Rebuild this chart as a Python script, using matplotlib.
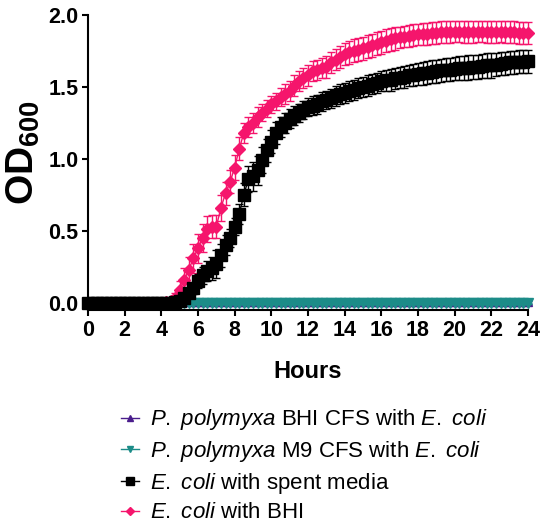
import numpy as np
import matplotlib
matplotlib.use("Agg")
import matplotlib.pyplot as plt

plt.rcParams['font.family'] = ['Liberation Sans', 'DejaVu Sans']
plt.rcParams['mathtext.fontset'] = 'custom'
plt.rcParams['mathtext.rm'] = 'Liberation Sans'
plt.rcParams['mathtext.it'] = 'Liberation Sans:italic'
plt.rcParams['mathtext.bf'] = 'Liberation Sans:bold'

# readings every 15 min, 0-24 h
hours = np.arange(97) * 0.25

# P. polymyxa BHI CFS with E. coli
bhi_cfs = [
    0.004, 0.004, 0.004, 0.004, 0.004, 0.004, 0.004, 0.004,
    0.004, 0.004, 0.004, 0.004, 0.004, 0.004, 0.004, 0.004,
    0.004, 0.004, 0.004, 0.004, 0.004, 0.004, 0.004, 0.004,
    0.004, 0.004, 0.004, 0.004, 0.004, 0.004, 0.004, 0.004,
    0.004, 0.004, 0.004, 0.004, 0.004, 0.004, 0.004, 0.004,
    0.004, 0.004, 0.004, 0.004, 0.004, 0.004, 0.004, 0.004,
    0.004, 0.004, 0.004, 0.004, 0.004, 0.004, 0.004, 0.004,
    0.004, 0.004, 0.004, 0.004, 0.004, 0.004, 0.004, 0.004,
    0.004, 0.004, 0.004, 0.004, 0.004, 0.004, 0.004, 0.004,
    0.004, 0.004, 0.004, 0.004, 0.004, 0.004, 0.004, 0.004,
    0.004, 0.004, 0.004, 0.004, 0.004, 0.004, 0.004, 0.004,
    0.004, 0.004, 0.004, 0.004, 0.004, 0.004, 0.004, 0.004,
    0.004,
]
# P. polymyxa M9 CFS with E. coli
m9_cfs = [
    -0.002, -0.002, -0.002, -0.002, -0.002, -0.002, -0.002, -0.002,
    -0.002, -0.002, -0.002, -0.002, -0.002, -0.002, -0.002, -0.002,
    -0.002, -0.002, -0.002, -0.002, -0.002, -0.002, -0.002, -0.002,
    -0.002, -0.002, -0.002, -0.002, -0.002, -0.002, -0.002, -0.002,
    -0.002, -0.002, -0.002, -0.002, -0.002, -0.002, -0.002, -0.002,
    -0.002, -0.002, -0.002, -0.002, -0.002, -0.002, -0.002, -0.002,
    -0.002, -0.002, -0.002, -0.002, -0.002, -0.002, -0.002, -0.002,
    -0.002, -0.002, -0.002, -0.002, -0.002, -0.002, -0.002, -0.002,
    -0.002, -0.002, -0.002, -0.002, -0.002, -0.002, -0.002, -0.002,
    -0.002, -0.002, -0.002, -0.002, -0.002, -0.002, -0.002, -0.002,
    -0.002, -0.002, -0.002, -0.002, -0.002, -0.002, -0.002, -0.002,
    -0.002, -0.002, -0.002, -0.002, -0.002, -0.002, -0.002, -0.002,
    -0.002,
]

# E. coli with spent media
spent = [
    0.000, 0.000, 0.000, 0.000, 0.000, 0.000, 0.000, 0.000,
    0.000, 0.000, 0.000, 0.000, 0.000, 0.000, 0.000, 0.000,
    0.000, 0.000, 0.002, 0.005, 0.010, 0.030, 0.070, 0.100,
    0.150, 0.190, 0.220, 0.240, 0.270, 0.330, 0.400, 0.450,
    0.530, 0.620, 0.750, 0.860, 0.880, 0.920, 0.990, 1.060,
    1.120, 1.180, 1.220, 1.250, 1.280, 1.300, 1.320, 1.340,
    1.360, 1.370, 1.380, 1.400, 1.410, 1.420, 1.440, 1.450,
    1.460, 1.470, 1.480, 1.490, 1.500, 1.510, 1.520, 1.530,
    1.540, 1.545, 1.550, 1.560, 1.565, 1.570, 1.580, 1.585,
    1.590, 1.595, 1.600, 1.605, 1.610, 1.615, 1.620, 1.620,
    1.625, 1.630, 1.630, 1.635, 1.640, 1.640, 1.645, 1.650,
    1.650, 1.655, 1.660, 1.665, 1.670, 1.670, 1.675, 1.675,
    1.680,
]
spent_err = [
    0.005, 0.005, 0.005, 0.005, 0.005, 0.005, 0.005, 0.005,
    0.005, 0.005, 0.005, 0.005, 0.005, 0.005, 0.005, 0.005,
    0.005, 0.005, 0.005, 0.008, 0.010, 0.020, 0.030, 0.040,
    0.050, 0.060, 0.070, 0.080, 0.100, 0.080, 0.070, 0.060,
    0.060, 0.070, 0.080, 0.090, 0.100, 0.100, 0.090, 0.080,
    0.080, 0.075, 0.070, 0.070, 0.065, 0.065, 0.065, 0.065,
    0.065, 0.065, 0.065, 0.065, 0.065, 0.065, 0.070, 0.070,
    0.070, 0.070, 0.070, 0.070, 0.070, 0.070, 0.070, 0.070,
    0.070, 0.075, 0.075, 0.075, 0.075, 0.075, 0.075, 0.075,
    0.075, 0.080, 0.080, 0.080, 0.080, 0.080, 0.080, 0.080,
    0.080, 0.085, 0.085, 0.085, 0.085, 0.085, 0.085, 0.085,
    0.085, 0.080, 0.080, 0.080, 0.080, 0.080, 0.080, 0.080,
    0.080,
]

# E. coli with BHI
bhi = [
    0.000, 0.000, 0.000, 0.000, 0.000, 0.000, 0.000, 0.000,
    0.000, 0.000, 0.000, 0.000, 0.000, 0.000, 0.000, 0.000,
    0.000, 0.003, 0.010, 0.030, 0.090, 0.160, 0.230, 0.310,
    0.380, 0.450, 0.510, 0.530, 0.530, 0.660, 0.760, 0.840,
    0.940, 1.070, 1.180, 1.220, 1.250, 1.290, 1.320, 1.350,
    1.380, 1.400, 1.430, 1.450, 1.470, 1.510, 1.540, 1.560,
    1.580, 1.610, 1.620, 1.630, 1.640, 1.670, 1.690, 1.710,
    1.730, 1.740, 1.750, 1.760, 1.770, 1.780, 1.790, 1.800,
    1.810, 1.820, 1.830, 1.840, 1.845, 1.850, 1.855, 1.860,
    1.865, 1.870, 1.870, 1.875, 1.875, 1.880, 1.880, 1.880,
    1.885, 1.885, 1.880, 1.880, 1.880, 1.885, 1.885, 1.880,
    1.880, 1.880, 1.885, 1.880, 1.880, 1.880, 1.875, 1.875,
    1.875,
]
bhi_err = [
    0.005, 0.005, 0.005, 0.005, 0.005, 0.005, 0.005, 0.005,
    0.005, 0.005, 0.005, 0.005, 0.005, 0.005, 0.005, 0.005,
    0.005, 0.005, 0.020, 0.040, 0.060, 0.080, 0.090, 0.100,
    0.100, 0.100, 0.090, 0.080, 0.080, 0.090, 0.080, 0.080,
    0.090, 0.080, 0.070, 0.070, 0.070, 0.070, 0.060, 0.060,
    0.060, 0.060, 0.065, 0.070, 0.070, 0.075, 0.070, 0.070,
    0.070, 0.070, 0.070, 0.070, 0.075, 0.075, 0.075, 0.075,
    0.075, 0.080, 0.080, 0.080, 0.080, 0.080, 0.080, 0.080,
    0.080, 0.080, 0.080, 0.080, 0.075, 0.075, 0.075, 0.075,
    0.075, 0.075, 0.075, 0.075, 0.075, 0.075, 0.075, 0.075,
    0.075, 0.075, 0.075, 0.075, 0.075, 0.075, 0.075, 0.075,
    0.075, 0.075, 0.075, 0.075, 0.075, 0.075, 0.075, 0.075,
    0.075,
]
cfs_err = 0.012

labels = [
    r'$\it{P.}$ $\it{polymyxa}$ BHI CFS with $\it{E.}$ $\it{coli}$',
    r'$\it{P.}$ $\it{polymyxa}$ M9 CFS with $\it{E.}$ $\it{coli}$',
    r'$\it{E.}$ $\it{coli}$ with spent media',
    r'$\it{E.}$ $\it{coli}$ with BHI',
]
colors = ['#4a1d8c', '#1c8c88', '#000000', '#f5156c']

fig = plt.figure(figsize=(5.5, 5.32), dpi=100)
ax = fig.add_axes([88 / 550, 1 - 310 / 532, 440 / 550, 295 / 532])

kw = dict(linewidth=1, elinewidth=1, capsize=3, capthick=1, clip_on=False)
h1 = ax.errorbar(hours, bhi_cfs, yerr=cfs_err, color=colors[0], marker='^',
                 markersize=6, zorder=2, **kw)
h2 = ax.errorbar(hours, m9_cfs, yerr=0.003, color=colors[1], marker='v',
                 markersize=7, zorder=3, **kw)
h4 = ax.errorbar(hours, bhi, yerr=bhi_err, color=colors[3], marker='D',
                 markersize=6, zorder=4, **kw)
h3 = ax.errorbar(hours, spent, yerr=spent_err, color=colors[2], marker='s',
                 markersize=8, zorder=5, **kw)

ax.set_xlim(0, 24)
ax.set_ylim(-0.05, 2.0)
ax.set_xticks(np.arange(0, 25, 2))
ax.set_yticks([0.0, 0.5, 1.0, 1.5, 2.0])
ax.set_yticklabels(['0.0', '0.5', '1.0', '1.5', '2.0'])
for s in ['top', 'right']:
    ax.spines[s].set_visible(False)
for s in ['left', 'bottom']:
    ax.spines[s].set_linewidth(1.5)
ax.tick_params(width=1.5, length=4, labelsize=15.5, pad=3)
for t in ax.get_xticklabels() + ax.get_yticklabels():
    t.set_fontweight('bold')

ax.set_xlabel('Hours', fontsize=17, fontweight='bold', labelpad=14)
ax.set_ylabel(r'$\mathbf{OD}_{\mathbf{600}}$', fontsize=28)
ax.yaxis.set_label_coords(-0.105, 0.535)

handles = [h1.lines[0], h2.lines[0], h3.lines[0], h4.lines[0]]
fig.legend(handles, labels, loc='upper left', bbox_to_anchor=(0.2, 0.255),
           frameon=False, fontsize=16, handlelength=0.8, handletextpad=0.5,
           labelspacing=0.3, borderpad=0, markerscale=0.7)

fig.savefig('out.png', dpi=100)
